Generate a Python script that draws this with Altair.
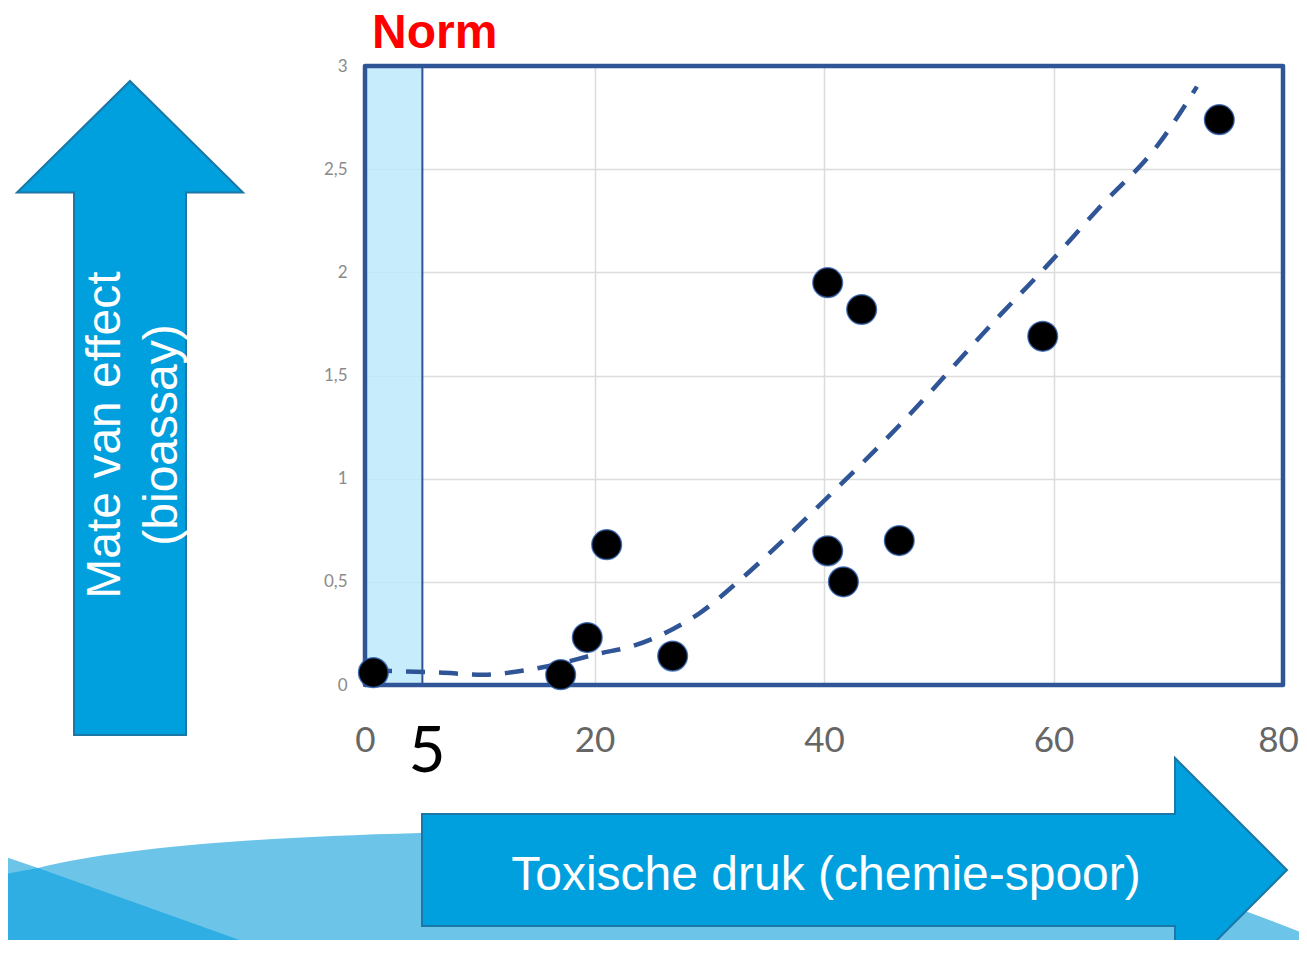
import altair as alt
import pandas as pd

# ---------------- data ----------------
point_x = [0.73, 17.05, 19.37, 21.06, 26.81, 40.32, 43.28, 40.32, 41.69, 46.56, 59.06, 74.45]
point_y = [0.06, 0.05, 0.23, 0.68, 0.14, 1.95, 1.82, 0.65, 0.50, 0.70, 1.69, 2.74]

trend_x = [0.7, 6.5, 10.3, 13.8, 16.7, 20.2, 23.4, 26.8, 29.2, 32.7, 36.8, 39.4, 46.6, 55.3, 59.4, 64.1, 69.0, 72.5]
trend_y = [0.07, 0.06, 0.05, 0.07, 0.10, 0.15, 0.19, 0.27, 0.35, 0.51, 0.72, 0.86, 1.26, 1.79, 2.03, 2.32, 2.61, 2.90]

x_ticks = [0, 20, 40, 60, 80]
y_ticks = [0, 0.5, 1, 1.5, 2, 2.5, 3]
norm_range = [0, 5]
norm_label = "Norm"
extra_tick = "5"
y_title_lines = ["Mate van effect", "(bioassay)"]
x_title = "Toxische druk (chemie-spoor)"

# ---------------- layout constants ----------------
W, H = 918, 619
OX, OY = 365, 66          # page pixel of plot origin
NAVY = "#2f5597"
ARROW = "#009fde"
ARROW_EDGE = "#1a77a6"

points = pd.DataFrame({"x": point_x, "y": point_y})
trend = pd.DataFrame({"x": trend_x, "y": trend_y, "o": list(range(len(trend_x)))})
norm = pd.DataFrame({"x": [norm_range[0]], "x2": [norm_range[1]],
                     "y": [y_ticks[0]], "y2": [y_ticks[-1]]})
frame = pd.DataFrame({"x": [x_ticks[0]], "x2": [x_ticks[-1]],
                      "y": [y_ticks[0]], "y2": [y_ticks[-1]]})
one = pd.DataFrame({"k": [0]})

xs = alt.Scale(domain=[x_ticks[0], x_ticks[-1]], nice=False, zero=False)
ys = alt.Scale(domain=[y_ticks[0], y_ticks[-1]], nice=False, zero=False)
xaxis = alt.Axis(values=x_ticks, domain=False, ticks=False, grid=True, gridColor="#dcdcdc",
                 gridWidth=1.5, labelFont="Lato", labelFontSize=35, labelColor="#666666",
                 labelPadding=38, labelFlush=False, labelOverlap=False, title=None,
                 labelOffset={"condition": {"test": f"datum.value == {x_ticks[-1]}", "value": -5},
                              "value": 0})
yaxis = alt.Axis(values=y_ticks, domain=False, ticks=False, grid=True, gridColor="#dcdcdc",
                 gridWidth=1.5, labelFont="Lato", labelFontSize=17, labelColor="#8a8a8a",
                 labelPadding=18, labelFlush=False, labelOverlap=False, title=None,
                 labelExpr="replace(format(datum.value, '~g'), '.', ',')")


def X(f):
    return alt.X(f, type="quantitative", scale=xs, axis=xaxis, title=None)


def Y(f):
    return alt.Y(f, type="quantitative", scale=ys, axis=yaxis, title=None)


def shape(cmds):
    """Custom symbol path from page-pixel outline; returns path, x, y, size."""
    pts = [p for _, ps in cmds for p in ps]
    xs_ = [p[0] for p in pts]
    ys_ = [p[1] for p in pts]
    cx = (min(xs_) + max(xs_)) / 2
    cy = (min(ys_) + max(ys_)) / 2
    half = max(max(xs_) - min(xs_), max(ys_) - min(ys_)) / 2
    parts = []
    for c, ps in cmds:
        parts.append(c + " ".join(f"{(px - cx) / half:.5f},{(py - cy) / half:.5f}" for px, py in ps))
    return "".join(parts), cx - OX, cy - OY, (2 * half) ** 2


def deco(cmds, fill, stroke=None, sw=0):
    path, px, py, size = shape(cmds)
    kw = dict(shape=path, filled=True, fill=fill, fillOpacity=1, opacity=1, size=size)
    if stroke:
        kw.update(stroke=stroke, strokeWidth=sw, strokeOpacity=1)
    else:
        kw.update(strokeWidth=0)
    return alt.Chart(one).mark_point(**kw).encode(x=alt.value(px), y=alt.value(py))


wave_light = deco([("M", [(0, 855)]), ("L", [(38, 868)]), ("Q", [(150, 840), (420, 833)]),
                   ("Q", [(800, 822), (1100, 862)]), ("Q", [(1200, 892), (1310, 936)]),
                   ("L", [(1310, 960)]), ("L", [(0, 960)]), ("Z", [])], "#6cc5e9")
wave_dark = deco([("M", [(0, 875)]), ("L", [(38, 868)]), ("L", [(290, 958)]),
                  ("L", [(0, 958)]), ("Z", [])], "#2eaee2")
arrow_v = deco([("M", [(130, 81)]), ("L", [(243, 192.5)]), ("L", [(186, 192.5)]), ("L", [(186, 735)]),
                ("L", [(74, 735)]), ("L", [(74, 192.5)]), ("L", [(17, 192.5)]), ("Z", [])],
               ARROW, ARROW_EDGE, 2)
arrow_h = deco([("M", [(422, 814)]), ("L", [(1175, 814)]), ("L", [(1175, 758)]), ("L", [(1287, 870)]),
                ("L", [(1175, 982)]), ("L", [(1175, 926)]), ("L", [(422, 926)]), ("Z", [])],
               ARROW, ARROW_EDGE, 2)

txt_font = "Liberation Sans"
ytitle1 = alt.Chart(one).mark_text(text=y_title_lines[0], font=txt_font, fontSize=48, color="white",
                                   angle=270, align="center", baseline="alphabetic").encode(
    x=alt.value(120 - OX), y=alt.value(435 - OY))
ytitle2 = alt.Chart(one).mark_text(text=y_title_lines[1], font=txt_font, fontSize=48, color="white",
                                   angle=270, align="center", baseline="alphabetic").encode(
    x=alt.value(177 - OX), y=alt.value(435 - OY))
xtitle = alt.Chart(one).mark_text(text=x_title, font=txt_font, fontSize=48, color="white",
                                  align="center", baseline="alphabetic").encode(
    x=alt.value(826 - OX), y=alt.value(890 - OY))

norm_rect = alt.Chart(norm).mark_rect(fill="#bdeafb", fillOpacity=0.85, stroke=NAVY,
                                      strokeWidth=2).encode(x=X("x"), x2="x2", y=Y("y"), y2="y2")
border = alt.Chart(frame).mark_rect(fill="transparent", stroke=NAVY, strokeWidth=4.5,
                                    strokeJoin="round").encode(x=X("x"), x2="x2", y=Y("y"), y2="y2")
line = alt.Chart(trend).mark_line(color=NAVY, strokeWidth=4.5, strokeDash=[19, 14],
                                  interpolate="monotone").encode(x=X("x"), y=Y("y"), order="o:Q")
dots = alt.Chart(points).mark_point(filled=True, fill="black", fillOpacity=1, stroke="#2d5fae",
                                    strokeWidth=1.5, strokeOpacity=0.8, size=880,
                                    shape="circle").encode(x=X("x"), y=Y("y"))

norm_text = alt.Chart(one).mark_text(text=norm_label, font=txt_font, fontWeight="bold", fontSize=48,
                                     color="#ff0000", align="left", baseline="alphabetic").encode(
    x=alt.value(372 - OX), y=alt.value(48 - OY))
five = alt.Chart(one).mark_text(text=extra_tick, font="Lato", fontSize=64, color="black",
                                align="center", baseline="alphabetic").encode(
    x=alt.value(427 - OX), y=alt.value(772 - OY))

chart = alt.layer(
    norm_rect, wave_light, wave_dark, arrow_v, arrow_h, ytitle1, ytitle2, xtitle,
    line, border, dots, norm_text, five
).properties(
    width=W, height=H,
    autosize=alt.AutoSizeParams(type="none"),
    padding={"left": OX - 8, "top": OY - 8, "right": 16, "bottom": 255},
    background="white",
).configure_view(strokeWidth=0)

chart.save("out.html", embed_options={"renderer": "svg", "actions": False})
